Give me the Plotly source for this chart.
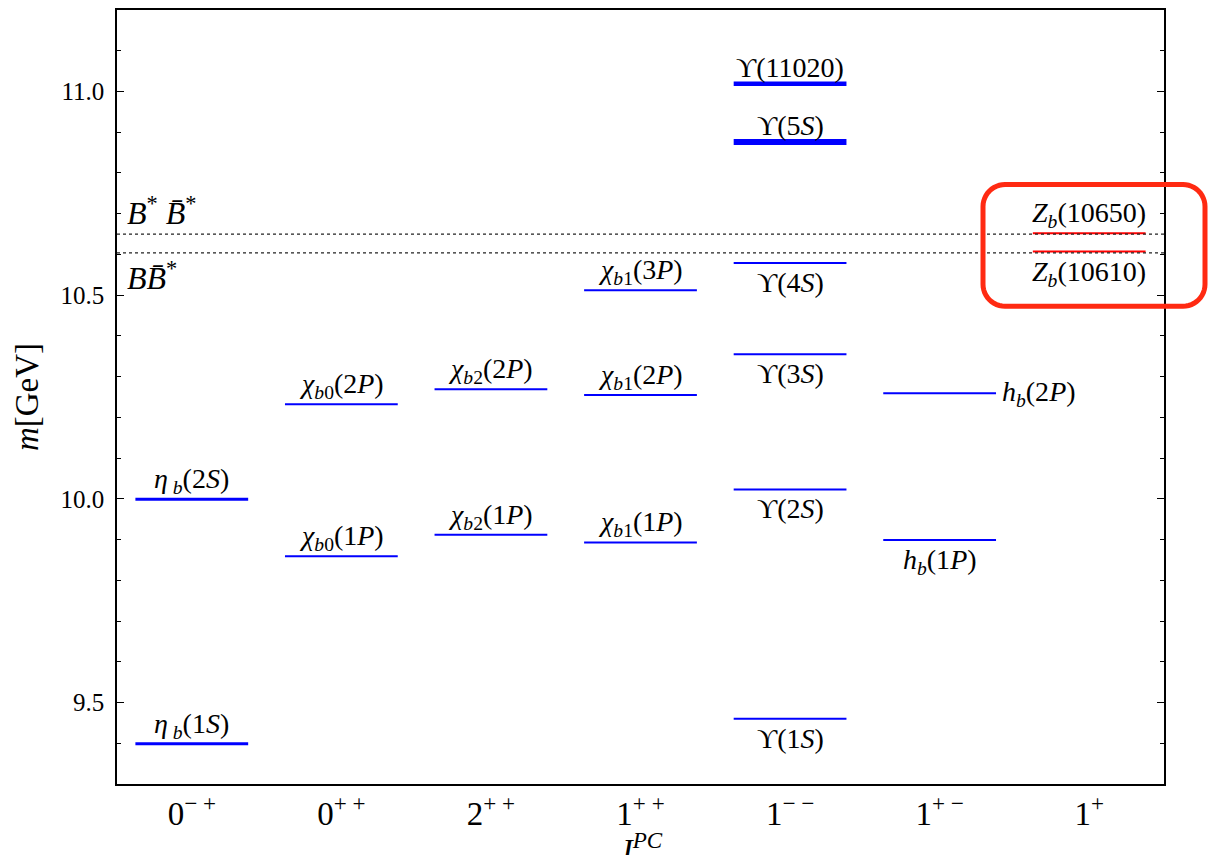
import math
import plotly.graph_objects as go

# J^PC columns along the x axis
jpc_ticks = ["0<sup>− +</sup>", "0<sup>+ +</sup>", "2<sup>+ +</sup>", "1<sup>+ +</sup>",
             "1<sup>− −</sup>", "1<sup>+ −</sup>", "1<sup>+</sup>"]

# bottomonium-like states: label, J^PC column index, mass [GeV]
state_labels = [
    "<i>η</i><sub> <i>b</i></sub>(1<i>S</i>)", "<i>η</i><sub> <i>b</i></sub>(2<i>S</i>)",
    "<i>χ</i><sub><i>b</i>0</sub>(1<i>P</i>)", "<i>χ</i><sub><i>b</i>0</sub>(2<i>P</i>)",
    "<i>χ</i><sub><i>b</i>2</sub>(1<i>P</i>)", "<i>χ</i><sub><i>b</i>2</sub>(2<i>P</i>)",
    "<i>χ</i><sub><i>b</i>1</sub>(1<i>P</i>)", "<i>χ</i><sub><i>b</i>1</sub>(2<i>P</i>)",
    "<i>χ</i><sub><i>b</i>1</sub>(3<i>P</i>)",
    "ϒ(1<i>S</i>)", "ϒ(2<i>S</i>)", "ϒ(3<i>S</i>)", "ϒ(4<i>S</i>)", "ϒ(5<i>S</i>)", "ϒ(11020)",
    "<i>h</i><sub><i>b</i></sub>(1<i>P</i>)", "<i>h</i><sub><i>b</i></sub>(2<i>P</i>)",
    "<i>Z</i><sub><i>b</i></sub>(10610)", "<i>Z</i><sub><i>b</i></sub>(10650)",
]
state_column = [0, 0, 1, 1, 2, 2, 3, 3, 3, 4, 4, 4, 4, 4, 4, 5, 5, 6, 6]
state_mass = [9.399, 9.999, 9.859, 10.232, 9.912, 10.269, 9.893, 10.255, 10.512,
              9.460, 10.023, 10.355, 10.579, 10.876, 11.019, 9.899, 10.259, 10.607, 10.652]

# open-bottom thresholds
threshold_labels = ["<i>B</i><i>B̄</i><sup>*</sup>", "<i>B</i><sup>*</sup> <i>B̄</i><sup>*</sup>"]
threshold_mass = [10.604, 10.650]

# ---- styling ----
FONT = '"Liberation Serif", "DejaVu Serif", serif'
BLUE = "#0000ff"
RED = "#ff0000"
HALF = 0.377  # half length of a level line in column units

# where each label sits relative to its line
placement = {
    "ϒ(1<i>S</i>)": "below", "ϒ(2<i>S</i>)": "below", "ϒ(3<i>S</i>)": "below",
    "ϒ(4<i>S</i>)": "below", "<i>h</i><sub><i>b</i></sub>(1<i>P</i>)": "below",
    "<i>h</i><sub><i>b</i></sub>(2<i>P</i>)": "right",
    "<i>Z</i><sub><i>b</i></sub>(10610)": "below",
}
line_width = {
    "<i>η</i><sub> <i>b</i></sub>(1<i>S</i>)": 3, "<i>η</i><sub> <i>b</i></sub>(2<i>S</i>)": 3,
    "ϒ(5<i>S</i>)": 6, "ϒ(11020)": 4.5,
}

fig = go.Figure()

for lab, col, m in zip(state_labels, state_column, state_mass):
    color = RED if col == 6 else BLUE
    fig.add_trace(go.Scatter(
        x=[col - HALF, col + HALF], y=[m, m], mode="lines",
        line=dict(color=color, width=line_width.get(lab, 2)),
        hoverinfo="skip", showlegend=False))
    where = placement.get(lab, "above")
    if where == "above":
        fig.add_annotation(x=col, y=m, text=lab, showarrow=False, xanchor="center",
                           yanchor="bottom", yshift=-1)
    elif where == "below":
        fig.add_annotation(x=col, y=m, text=lab, showarrow=False, xanchor="center",
                           yanchor="top", yshift=-2)
    else:
        fig.add_annotation(x=col + HALF, y=m, text=lab, showarrow=False, xanchor="left",
                           yanchor="middle", xshift=4)

# thresholds as dotted lines across the whole frame
for lab, m, side in zip(threshold_labels, threshold_mass, ["below", "above"]):
    fig.add_shape(type="line", xref="paper", x0=0, x1=1, yref="y", y0=m, y1=m,
                  line=dict(color="#222222", width=1.2, dash="dot"))
    fig.add_annotation(xref="paper", x=0.008, y=m, text=lab, showarrow=False,
                       xanchor="left", yanchor="bottom" if side == "above" else "top",
                       yshift=1 if side == "above" else -1, font=dict(size=32))

# frame geometry in pixels
W, H = 1220, 855
ML, MR, MT, MB = 117, 56, 8, 71
PW, PH = W - ML - MR, H - MT - MB


def to_paper(px, py):
    return (px - ML) / PW, (H - MB - py) / PH


# rounded highlight box around the Z_b states
bx0, bx1, by0, by1, rad = 983, 1205, 183, 305, 22
pts = []
corners = [(bx1 - rad, by0 + rad, -90, 0), (bx1 - rad, by1 - rad, 0, 90),
           (bx0 + rad, by1 - rad, 90, 180), (bx0 + rad, by0 + rad, 180, 270)]
for cx, cy, a0, a1 in corners:
    for k in range(13):
        a = math.radians(a0 + (a1 - a0) * k / 12)
        pts.append(to_paper(cx + rad * math.cos(a), cy + rad * math.sin(a)))
path = "M " + " L ".join(f"{x:.5f},{y:.5f}" for x, y in pts) + " Z"
fig.add_shape(type="path", xref="paper", yref="paper", path=path,
              line=dict(color="#ff2a12", width=5))

# x axis title (J^PC)
fig.add_annotation(xref="paper", yref="paper", x=0.5, y=to_paper(0, 825)[1],
                   text="<i>J</i><sup><i>PC</i></sup>", showarrow=False,
                   xanchor="center", yanchor="top", font=dict(size=33))

fig.update_layout(
    width=W, height=H,
    margin=dict(l=ML, r=MR, t=MT, b=MB),
    paper_bgcolor="white", plot_bgcolor="white",
    font=dict(family=FONT, size=28, color="black"),
    xaxis=dict(range=[-0.5, 6.5], tickmode="array", tickvals=list(range(7)),
               ticktext=jpc_ticks, ticks="", showgrid=False, zeroline=False,
               showline=True, linecolor="black", linewidth=1.5, mirror=True,
               tickfont=dict(size=33), ticklabelstandoff=0),
    yaxis=dict(range=[9.3, 11.2], tickmode="array", tickvals=[9.5, 10.0, 10.5, 11.0],
               ticktext=["9.5", "10.0", "10.5", "11.0"], ticks="inside", ticklen=7,
               tickcolor="black", tickwidth=1, showgrid=False, zeroline=False,
               showline=True, linecolor="black", linewidth=1.5, mirror="ticks",
               tickfont=dict(size=25), ticklabelstandoff=6,
               minor=dict(dtick=0.1, tick0=9.3, ticks="inside", ticklen=4,
                          tickcolor="black", tickwidth=1, showgrid=False),
               title=dict(text="<i>m</i>[GeV]", font=dict(size=33), standoff=12)),
)

fig.write_html("out.html")
